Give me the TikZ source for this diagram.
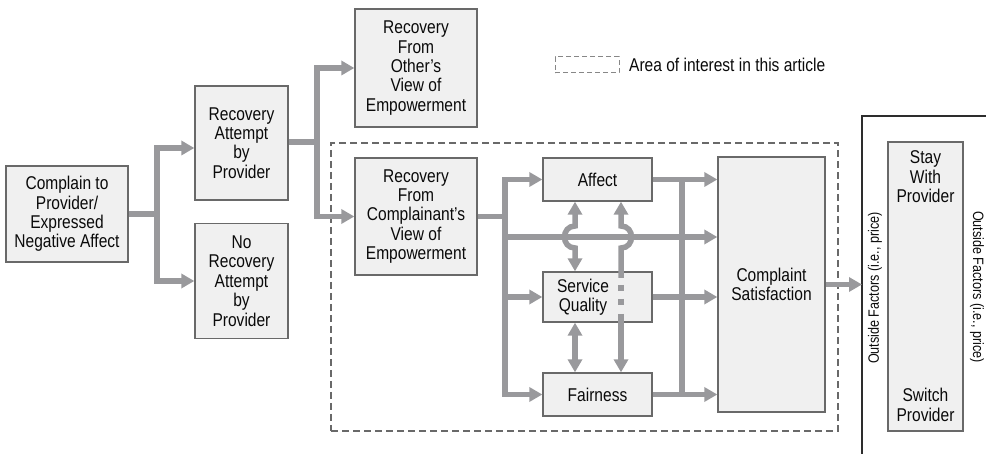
\documentclass[tikz,border=0pt]{standalone}
\usepackage{fontspec}
\setmainfont{Liberation Sans}[FakeStretch=0.84]
\usetikzlibrary{arrows.meta}
\definecolor{linec}{RGB}{153,153,156}
\definecolor{boxc}{RGB}{105,105,105}
\definecolor{fillc}{RGB}{240,240,240}
\definecolor{txtc}{RGB}{10,10,10}
\newcommand{\mainfs}{\fontsize{18.5}{19.4}\selectfont}
\newcommand{\smallfs}{\fontsize{15}{16}\selectfont}
\tikzset{
  box/.style={draw=boxc, fill=fillc, line width=1.3pt, align=center, inner sep=0pt, text=txtc, font=\mainfs},
  txt/.style={align=center, inner sep=0pt, text=txtc, font=\mainfs},
  conn/.style={draw=linec, line width=5.5pt, line join=miter},
  arr/.style={conn, ->},
  dashbox/.style={draw=boxc, line width=1.3pt, dash pattern=on 7pt off 4pt, inner sep=0pt},
  legbox/.style={draw=boxc!80, line width=1pt, dash pattern=on 5pt off 3pt, inner sep=0pt},
  outl/.style={draw=boxc!140, line width=1.1pt},
  >={Triangle[length=13pt,width=14pt]}
}
\begin{document}
\begin{tikzpicture}[x=1pt,y=-1pt]
\useasboundingbox (0,0) rectangle (986,454);

% area of interest
\node[dashbox, minimum width=507pt, minimum height=288pt] (area) at (584.5,287) {};
\node[legbox, minimum width=64pt, minimum height=16pt] (leg) at (587,65) {};
\node[txt, anchor=west] (legt) at (629,65) {Area of interest in this article};

% outside box
\coordinate (ofl) at (862,0);
\draw[outl] (862,454) -- (862,116) -- (986,116);

% boxes
\node[box, minimum width=122pt, minimum height=96pt] (cmp) at (67,214) {Complain to\\Provider/\\Expressed\\Negative Affect};
\node[box, minimum width=93pt, minimum height=114pt] (rap) at (241.5,143) {Recovery\\Attempt\\by\\Provider};
\node[box, minimum width=93pt, minimum height=115pt] (nrap) at (241.5,281) {No\\Recovery\\Attempt\\by\\Provider};
\node[box, minimum width=122pt, minimum height=118pt] (rfo) at (416,68) {Recovery\\From\\Other’s\\View of\\Empowerment};
\node[box, minimum width=122pt, minimum height=117pt] (rfc) at (416,216.5) {Recovery\\From\\Complainant’s\\View of\\Empowerment};
\node[box, minimum width=109pt, minimum height=43pt] (aff) at (597.5,179.5) {Affect};
\node[box, minimum width=109pt, minimum height=50pt] (sq) at (597.5,297) {};
\node[txt] (sqt) at (583,297) {Service\\Quality};
\node[box, minimum width=109pt, minimum height=43pt] (fair) at (597.5,394.5) {Fairness};
\node[box, minimum width=107pt, minimum height=255pt] (cs) at (771.5,284.5) {Complaint\\Satisfaction};
\node[box, minimum width=75pt, minimum height=289pt] (sw) at (925.5,286.5) {};
\node[txt] (stay) at (925.5,177) {Stay\\With\\Provider};
\node[txt] (switch) at (925.5,405) {Switch\\Provider};

\node[txt, font=\smallfs, rotate=90] (of1) at (875,288) {Outside Factors (i.e., price)};
\node[txt, font=\smallfs, rotate=-90] (of2) at (977,287) {Outside Factors (i.e., price)};

% connectors
\coordinate (j1) at (157,214);
\draw[conn] (cmp.east) -- (j1);
\draw[arr] (j1) |- ([yshift=-5pt]rap.west);
\draw[arr] (j1) |- (nrap.west);

\coordinate (j2) at (317,142);
\draw[conn] (rap.east |- j2) -- (j2);
\draw[arr] (j2) |- (rfo.west);
\draw[arr] (j2) |- (rfc.west);

\coordinate (j3) at (505,216.5);
\coordinate (j4) at (505,237);
\draw[conn] (rfc.east) -- (j3);
\draw[arr] (j3) |- (aff.west);
\draw[arr] (j3) |- (sq.west);
\draw[arr] (j3) |- (fair.west);
\draw[arr] (j4) -- (cs.west |- j4);

\coordinate (j5) at (682,179.5);
\coordinate (j6) at (682,394.5);
\draw[arr] (aff.east) -- (cs.west |- aff.east);
\draw[arr] (sq.east) -- (cs.west |- sq.east);
\draw[arr] (fair.east) -- (cs.west |- fair.east);
\draw[conn] (j5) -- (j6);

\coordinate (v1) at (575,0);
\coordinate (v2) at (621,0);
\draw[conn,<->] (aff.south -| v1) -- (575,226) .. controls (561,226) and (561,248) .. (575,248) -- (sq.north -| v1);
\draw[conn,<->] (sq.south -| v1) -- (fair.north -| v1);
\draw[conn,<-] (aff.south -| v2) -- (621,226) .. controls (635,226) and (635,248) .. (621,248) -- (621,278);
\draw[conn] (621,285) -- (621,291);
\draw[conn] (621,299) -- (621,305);
\draw[conn,->] (621,314) -- (fair.north -| v2);

\draw[arr] (cs.east) -- (cs.east -| ofl);
\end{tikzpicture}
\end{document}
